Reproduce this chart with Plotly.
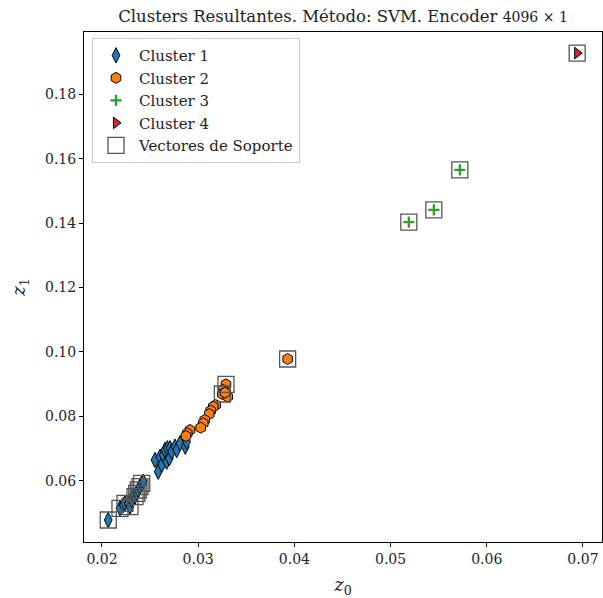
import plotly.graph_objects as go

# Cluster 1 (blue thin diamonds)
c1_x = [0.02065, 0.02187, 0.02221, 0.02239, 0.02273, 0.02291, 0.02309, 0.02325, 0.02343,
        0.02361, 0.02377, 0.02395, 0.02413, 0.02429,
        0.02551, 0.02585, 0.02603, 0.02621, 0.02637, 0.02655, 0.02673, 0.02679, 0.02700,
        0.02707, 0.02725, 0.02759, 0.02777, 0.02811, 0.02866, 0.02880]
c1_y = [0.04780, 0.05143, 0.05245, 0.05298, 0.05298, 0.05193, 0.05401, 0.05556, 0.05503,
        0.05609, 0.05711, 0.05814, 0.05919, 0.05969,
        0.06643, 0.06280, 0.06745, 0.06488, 0.06798, 0.06953, 0.06590, 0.07006, 0.06696,
        0.07006, 0.06901, 0.07056, 0.06953, 0.07161, 0.07056, 0.07211]

# Cluster 2 (orange hexagons)
c2_x = [0.03289, 0.03261, 0.03251, 0.03307, 0.03279, 0.03182, 0.03157, 0.03130, 0.03115,
        0.03068, 0.03053, 0.03026, 0.02915, 0.02887, 0.02873, 0.03930]
c2_y = [0.08994, 0.08817, 0.08693, 0.08609, 0.08733, 0.08351, 0.08298, 0.08174, 0.08071,
        0.07885, 0.07783, 0.07646, 0.07575, 0.07472, 0.07388, 0.09780]

# Cluster 3 (green plus)
c3_x = [0.0519, 0.0545, 0.0572]
c3_y = [0.1403, 0.1441, 0.1565]

# Cluster 4 (red triangle)
c4_x = [0.0694]
c4_y = [0.1928]

# Support vectors
sv_x = [0.02065, 0.02187, 0.02239, 0.02291, 0.02343, 0.02361, 0.02377, 0.02395, 0.02413,
        0.03289, 0.03251, 0.03930, 0.0519, 0.0545, 0.0572, 0.0694]
sv_y = [0.04780, 0.05143, 0.05298, 0.05193, 0.05503, 0.05609, 0.05711, 0.05814, 0.05919,
        0.08994, 0.08693, 0.09780, 0.1403, 0.1441, 0.1565, 0.1928]

x_ticks = [0.02, 0.03, 0.04, 0.05, 0.06, 0.07]
y_ticks = [0.06, 0.08, 0.10, 0.12, 0.14, 0.16, 0.18]

FONT = "DejaVu Serif"

fig = go.Figure()
fig.add_trace(go.Scatter(
    x=c1_x, y=c1_y, mode="markers", name="Cluster 1",
    marker=dict(symbol="diamond-tall", size=11, color="#1f77b4",
                line=dict(color="black", width=1))))
fig.add_trace(go.Scatter(
    x=c2_x, y=c2_y, mode="markers", name="Cluster 2",
    marker=dict(symbol="hexagon", size=11, color="#ff7f0e",
                line=dict(color="black", width=1))))
fig.add_trace(go.Scatter(
    x=c3_x, y=c3_y, mode="markers", name="Cluster 3",
    marker=dict(symbol="cross-thin", size=8, color="#2ca02c",
                line=dict(color="#2ca02c", width=2.3))))
fig.add_trace(go.Scatter(
    x=c4_x, y=c4_y, mode="markers", name="Cluster 4",
    marker=dict(symbol="triangle-right", size=10, color="#d62728",
                line=dict(color="black", width=1))))
fig.add_trace(go.Scatter(
    x=sv_x, y=sv_y, mode="markers", name="Vectores de Soporte",
    marker=dict(symbol="square-open", size=16, color="#555555",
                line=dict(color="#555555", width=1.3))))

axis_common = dict(
    showline=True, mirror=True, linecolor="black", linewidth=1,
    ticks="outside", ticklen=4, tickwidth=1, tickcolor="black",
    showgrid=False, zeroline=False,
    tickfont=dict(family=FONT, size=14, color="#222222"),
)

fig.update_layout(
    width=603, height=598,
    margin=dict(l=84, r=1, t=32, b=56),
    paper_bgcolor="white", plot_bgcolor="white",
    title=dict(
        text="Clusters Resultantes. Método: SVM. Encoder <span style='font-size:14px'>4096 × 1</span>",
        x=(84 + 602) / 2 / 603, xanchor="center", y=1 - 16 / 598, yanchor="middle",
        font=dict(family=FONT, size=16.5, color="#222222")),
    xaxis=dict(range=[0.01813, 0.07198], tickvals=x_ticks, tickformat=".2f",
               title=dict(text="<i>z</i><sub>0</sub>", font=dict(family=FONT, size=18, color="#222222"),
                          standoff=12),
               **axis_common),
    yaxis=dict(range=[0.04096, 0.19935], tickvals=y_ticks, tickformat=".2f",
               title=dict(text="<i>z</i><sub>1</sub>", font=dict(family=FONT, size=18, color="#222222"),
                          standoff=14),
               **axis_common),
    legend=dict(x=0.0154, y=0.988, xanchor="left", yanchor="top",
                bgcolor="rgba(255,255,255,0.8)", bordercolor="#cccccc", borderwidth=1,
                font=dict(family=FONT, size=15, color="#222222"),
                itemwidth=36, tracegroupgap=0),
    showlegend=True,
)

fig.write_html("out.html")
